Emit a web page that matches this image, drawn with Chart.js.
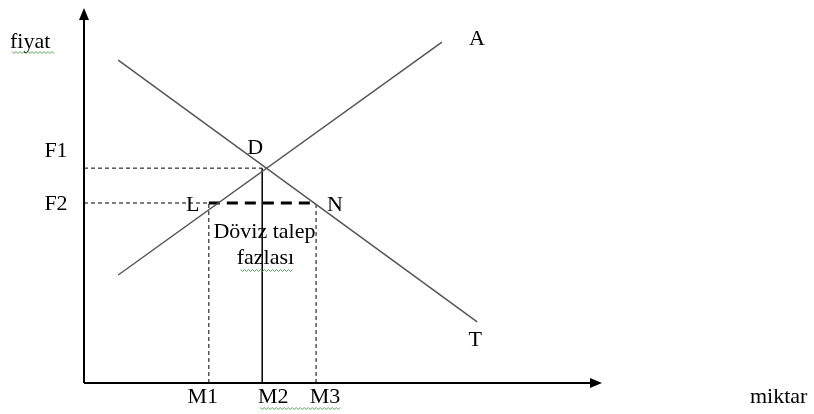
<!DOCTYPE html>
<html lang="tr">
<head>
    <meta charset="UTF-8">
    <title>Döviz talep fazlası</title>
    <script src="https://cdn.jsdelivr.net/npm/chart.js"></script>
    <style>
        body { margin: 0; background: #ffffff; }
        #wrap { width: 814px; height: 414px; }
    </style>
</head>
<body>
    <div id="wrap"><canvas id="chart" width="814" height="414"></canvas></div>

    <script>
        // quantities (miktar) and prices (fiyat), arbitrary units 0-100
        const qLevels = { M1: 24.1, M2: 34.4, M3: 44.8 };
        const pLevels = { F1: 57.3, F2: 48.0 };

        // supply curve (A) and demand curve (T), end points
        const supplyX = [6.6, 69.1];
        const supplyY = [28.8, 90.9];
        const demandX = [6.6, 75.9];
        const demandY = [86.1, 16.3];

        const toPoints = (xs, ys) => xs.map((x, i) => ({ x: x, y: ys[i] }));

        const FONT = '22px "Liberation Serif", "DejaVu Serif", serif';

        function lineSet(data, opts) {
            return Object.assign({
                data: data,
                showLine: true,
                pointRadius: 0,
                borderColor: '#000',
                borderWidth: 1,
                fill: false
            }, opts);
        }

        const datasets = [
            lineSet(toPoints(supplyX, supplyY), { borderColor: '#555', borderWidth: 1.5 }),
            lineSet(toPoints(demandX, demandY), { borderColor: '#555', borderWidth: 1.5 }),
            // F1 and F2 guides
            lineSet([{ x: 0, y: pLevels.F1 }, { x: qLevels.M2, y: pLevels.F1 }], { borderDash: [4, 3] }),
            lineSet([{ x: 0, y: pLevels.F2 }, { x: qLevels.M1, y: pLevels.F2 }], { borderDash: [4, 3] }),
            // excess demand L-N
            lineSet([{ x: qLevels.M1, y: pLevels.F2 }, { x: qLevels.M3, y: pLevels.F2 }], { borderWidth: 3, borderDash: [11, 7] }),
            // verticals
            lineSet([{ x: qLevels.M1, y: 0 }, { x: qLevels.M1, y: pLevels.F2 }], { borderDash: [4, 3] }),
            lineSet([{ x: qLevels.M2, y: 0 }, { x: qLevels.M2, y: pLevels.F1 }], { borderWidth: 1.5 }),
            lineSet([{ x: qLevels.M3, y: 0 }, { x: qLevels.M3, y: pLevels.F2 }], { borderDash: [4, 3] })
        ];

        function squiggle(ctx, x0, x1, y) {
            ctx.save();
            ctx.strokeStyle = '#5aa55a';
            ctx.lineWidth = 1;
            ctx.beginPath();
            for (let x = x0, k = 0; x <= x1; x += 2, k++) {
                const yy = y + (k % 2 ? 1.5 : -0.5);
                if (k === 0) ctx.moveTo(x, yy); else ctx.lineTo(x, yy);
            }
            ctx.stroke();
            ctx.restore();
        }

        const diagramPlugin = {
            id: 'diagram',
            beforeDatasetsDraw(chart) {
                const { ctx, chartArea: a } = chart;
                ctx.save();
                ctx.strokeStyle = '#000';
                ctx.fillStyle = '#000';
                ctx.lineWidth = 2;
                ctx.beginPath();
                ctx.moveTo(a.left, a.bottom);
                ctx.lineTo(a.left, a.top + 10);
                ctx.moveTo(a.left, a.bottom);
                ctx.lineTo(a.right - 10, a.bottom);
                ctx.stroke();
                // arrow heads
                ctx.beginPath();
                ctx.moveTo(a.left, a.top);
                ctx.lineTo(a.left - 5, a.top + 12);
                ctx.lineTo(a.left + 5, a.top + 12);
                ctx.closePath();
                ctx.fill();
                ctx.beginPath();
                ctx.moveTo(a.right, a.bottom);
                ctx.lineTo(a.right - 12, a.bottom - 5);
                ctx.lineTo(a.right - 12, a.bottom + 5);
                ctx.closePath();
                ctx.fill();
                ctx.restore();
            },
            afterDatasetsDraw(chart) {
                const { ctx, scales } = chart;
                const px = v => scales.x.getPixelForValue(v);
                const py = v => scales.y.getPixelForValue(v);
                const a = chart.chartArea;
                ctx.save();
                ctx.font = FONT;
                ctx.fillStyle = '#000';
                ctx.textBaseline = 'middle';
                ctx.textAlign = 'center';

                const put = (t, x, y) => ctx.fillText(t, x, y);

                // curve names
                put('A', px(supplyX[1]) + 35, py(supplyY[1]) - 3);
                put('T', px(demandX[1]) - 2, py(demandY[1]) + 18);
                // points
                put('D', px(qLevels.M2) - 7, py(pLevels.F1) - 20);
                put('L', px(qLevels.M1) - 16, py(pLevels.F2) + 2);
                put('N', px(qLevels.M3) + 19, py(pLevels.F2) + 2);
                // price levels
                put('F1', 56, py(pLevels.F1) - 17);
                put('F2', 56, py(pLevels.F2) + 1);
                // quantities
                const yb = a.bottom + 14;
                put('M1', px(qLevels.M1) - 6, yb);
                put('M2', px(qLevels.M2) + 11, yb);
                put('M3', px(qLevels.M3) + 9, yb);
                // note
                const mid = (px(qLevels.M1) + px(qLevels.M3)) / 2;
                put('Döviz talep', mid + 2, py(pLevels.F2) + 29);
                put('fazlası', mid + 3, py(pLevels.F2) + 55);
                // axis titles
                ctx.textAlign = 'left';
                put('fiyat', 10, 42);
                put('miktar', 750, yb);

                // spell-check squiggles
                squiggle(ctx, 12, 54, 52);
                squiggle(ctx, mid - 22, mid + 30, py(pLevels.F2) + 67);
                squiggle(ctx, px(qLevels.M2) - 2, px(qLevels.M3) + 26, yb + 11);
                ctx.restore();
            }
        };

        new Chart(document.getElementById('chart'), {
            type: 'scatter',
            data: { datasets: datasets },
            options: {
                responsive: false,
                animation: false,
                layout: { padding: { left: 84, right: 212, top: 8, bottom: 31 } },
                scales: {
                    x: { type: 'linear', min: 0, max: 100, display: false },
                    y: { type: 'linear', min: 0, max: 100, display: false }
                },
                plugins: {
                    legend: { display: false },
                    tooltip: { enabled: false }
                }
            },
            plugins: [diagramPlugin]
        });
    </script>
</body>
</html>
